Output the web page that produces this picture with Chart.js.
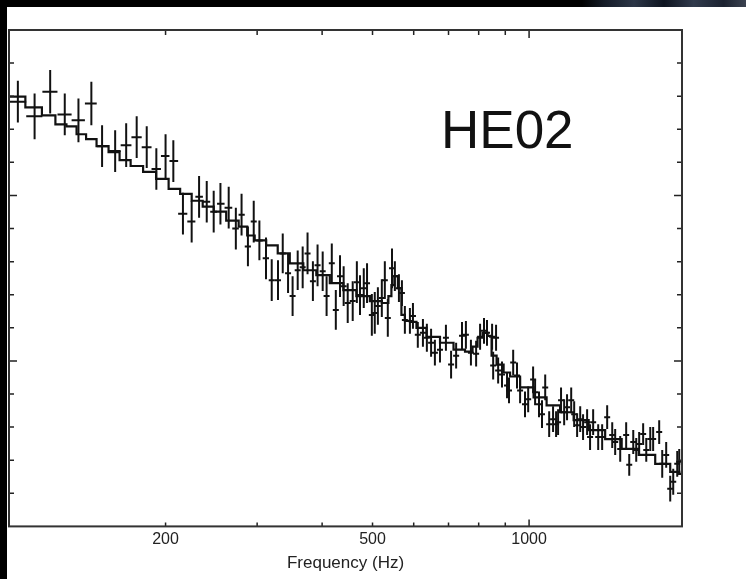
<!DOCTYPE html>
<html>
<head>
<meta charset="utf-8">
<script src="https://cdn.jsdelivr.net/npm/chart.js@4.4.1/dist/chart.umd.min.js"></script>
<style>
  html, body { margin: 0; padding: 0; background: #fff; }
  #wrap { position: relative; width: 746px; height: 579px; overflow: hidden; background: #fff; }
  canvas { position: absolute; left: 0; top: 0; }
  #leftStrip { position: absolute; left: 0; top: 0; width: 7px; height: 579px; background: #000; }
  #topStrip {
    position: absolute; left: 0; top: 0; width: 746px; height: 7px;
    background: linear-gradient(to right, #000 0%, #000 78%, #141b27 81%, #2c3647 85%, #0e1420 89%, #303a4c 93%, #1b2230 97%, #3b4250 100%);
  }
  #label {
    position: absolute; left: 441px; top: 103px;
    font: 53px "Liberation Sans", Arial, sans-serif; line-height: 1; color: #111;
  }
</style>
</head>
<body>
<div id="wrap">
  <canvas id="chart" width="746" height="579"></canvas>
  <div id="leftStrip"></div>
  <div id="topStrip"></div>
  <div id="label">HE02</div>
</div>
<script>
// ================= DATA =================
// measured spectrum (Hz, arbitrary power units) with 1-sigma errors
const freq = [104, 112, 120, 128, 136, 144, 151, 160, 168, 176, 184, 192, 200, 207, 216, 224.5,
  232, 240, 247.5, 255, 264.5, 273, 280, 288, 295.5, 303, 312, 320, 329, 336, 344, 351,
  359, 367, 375, 384, 392, 401, 408, 417.5, 425, 433, 440, 448, 458, 466.5, 473, 481,
  488, 498.5, 505, 512, 521, 528, 535, 545, 552, 562, 569.5, 577, 590, 598, 611, 625,
  636, 648, 659, 674, 692, 708, 724, 743, 756, 773, 791, 805, 819, 830, 849, 853,
  864, 872, 887, 907, 915, 932, 948, 961, 982, 996, 1018, 1027, 1045, 1059, 1074, 1093,
  1112, 1127, 1137, 1152, 1168, 1183, 1205, 1221, 1237, 1254, 1270, 1293, 1310, 1328, 1358, 1382,
  1413, 1445, 1464, 1497, 1537, 1558, 1586, 1607, 1628, 1657, 1680, 1710, 1732, 1779, 1803, 1835,
  1868, 1893, 1927, 1944];

const power = [2.567, 2.478, 2.627, 2.490, 2.454, 2.556, 2.298, 2.268, 2.304, 2.352, 2.292, 2.160, 2.238, 2.208, 1.890, 1.842,
  1.992, 1.962, 1.902, 1.950, 1.926, 1.800, 1.884, 1.692, 1.842, 1.728, 1.620, 1.488, 1.488, 1.650, 1.530, 1.392,
  1.548, 1.566, 1.650, 1.482, 1.578, 1.542, 1.392, 1.590, 1.308, 1.512, 1.452, 1.350, 1.362, 1.476, 1.398, 1.440,
  1.470, 1.278, 1.290, 1.332, 1.380, 1.488, 1.260, 1.560, 1.512, 1.440, 1.410, 1.248, 1.242, 1.272, 1.158, 1.170,
  1.140, 1.110, 1.050, 1.068, 1.140, 0.978, 1.032, 1.152, 1.158, 1.050, 1.044, 1.146, 1.182, 1.170, 1.146, 0.972,
  1.140, 0.942, 0.918, 0.852, 0.822, 0.990, 0.912, 0.822, 0.738, 0.768, 0.888, 0.810, 0.738, 0.678, 0.840, 0.618,
  0.648, 0.618, 0.630, 0.762, 0.690, 0.720, 0.762, 0.678, 0.612, 0.648, 0.600, 0.630, 0.540, 0.630, 0.540, 0.540,
  0.660, 0.552, 0.510, 0.468, 0.552, 0.372, 0.510, 0.462, 0.498, 0.558, 0.462, 0.528, 0.528, 0.570, 0.378, 0.432,
  0.228, 0.270, 0.378, 0.390];

const powerErr = [0.126, 0.138, 0.132, 0.126, 0.132, 0.132, 0.126, 0.126, 0.132, 0.126, 0.126, 0.126, 0.132, 0.126, 0.126, 0.126,
  0.126, 0.126, 0.126, 0.126, 0.126, 0.126, 0.126, 0.120, 0.126, 0.120, 0.126, 0.126, 0.120, 0.120, 0.120, 0.120,
  0.120, 0.126, 0.126, 0.120, 0.126, 0.120, 0.120, 0.120, 0.120, 0.126, 0.120, 0.120, 0.120, 0.126, 0.120, 0.120,
  0.120, 0.126, 0.126, 0.114, 0.114, 0.114, 0.114, 0.120, 0.090, 0.084, 0.078, 0.084, 0.078, 0.078, 0.078, 0.084,
  0.084, 0.084, 0.078, 0.078, 0.078, 0.084, 0.078, 0.084, 0.084, 0.078, 0.078, 0.078, 0.078, 0.078, 0.078, 0.084,
  0.078, 0.078, 0.078, 0.078, 0.078, 0.078, 0.078, 0.078, 0.078, 0.078, 0.078, 0.078, 0.078, 0.084, 0.078, 0.078,
  0.078, 0.078, 0.078, 0.078, 0.078, 0.078, 0.078, 0.078, 0.072, 0.078, 0.078, 0.078, 0.078, 0.078, 0.078, 0.078,
  0.072, 0.078, 0.078, 0.078, 0.078, 0.066, 0.072, 0.072, 0.072, 0.066, 0.072, 0.072, 0.072, 0.072, 0.084, 0.078,
  0.078, 0.078, 0.078, 0.078];

// best-fit model (step histogram)
const modelFreq = [100, 103.3, 111.9, 119.6, 126.1, 131.9, 137.9, 143.5, 151.3, 159.6, 166.8, 176.0, 186.3, 197.4, 208.2, 218.6,
  230.6, 241.0, 254.2, 269.2, 283.9, 290.3, 303.4, 321.4, 336.0, 357.6, 378.8, 401.2, 426.9, 452.2, 479.1, 509.7,
  532.8, 540.0, 547.2, 554.6, 564.5, 572.0, 582.3, 598.0, 616.9, 653.5, 695.4, 736.5, 770.0, 787.2, 804.9, 823.0,
  841.4, 852.7, 879.6, 907.3, 931.6, 991.2, 1049.9, 1112.3, 1183.4, 1253.6, 1351.8, 1451.0, 1564.6, 1687.0, 1811.0, 1926.8,
  1961.4];
const modelPower = [2.597, 2.597, 2.532, 2.484, 2.430, 2.418, 2.370, 2.340, 2.298, 2.262, 2.214, 2.178, 2.142, 2.100, 2.040, 2.010,
  1.968, 1.932, 1.902, 1.848, 1.812, 1.758, 1.728, 1.698, 1.650, 1.590, 1.548, 1.518, 1.470, 1.428, 1.392, 1.362,
  1.350, 1.392, 1.458, 1.512, 1.440, 1.278, 1.242, 1.236, 1.200, 1.146, 1.110, 1.068, 1.056, 1.086, 1.140, 1.170,
  1.152, 1.032, 0.978, 0.930, 0.906, 0.840, 0.780, 0.732, 0.690, 0.642, 0.582, 0.528, 0.468, 0.432, 0.378, 0.330,
  0.318];

// axes
const tickLabels = [200, 500, 1000];
const xMinorTicks = [200, 300, 400, 500, 600, 700, 800, 900];
const xMajorTicks = [1000];
const yMinorTicks = [0.2, 0.4, 0.6, 0.8, 1.2, 1.4, 1.6, 1.8, 2.2, 2.4, 2.6, 2.8];
const yMajorTicks = [1, 2];

const FONT = '"Liberation Sans", Arial, sans-serif';

// ================= ERROR BARS, TICKS, FRAME =================
const framePlugin = {
  id: 'frame',
  afterDatasetsDraw(chart) {
    const { ctx, chartArea: a, scales: { x, y } } = chart;
    ctx.save();

    // error bars
    ctx.beginPath();
    ctx.rect(a.left, a.top, a.right - a.left, a.bottom - a.top);
    ctx.clip();
    ctx.strokeStyle = '#111';
    ctx.lineWidth = 2;
    const px = freq.map(f => x.getPixelForValue(f));
    freq.forEach((f, i) => {
      const cx = px[i];
      const cy = y.getPixelForValue(power[i]);
      const lo = y.getPixelForValue(power[i] - powerErr[i]);
      const hi = y.getPixelForValue(power[i] + powerErr[i]);
      const left = i > 0 ? (cx - px[i - 1]) / 2 : (px[1] - cx) / 2;
      const right = i < px.length - 1 ? (px[i + 1] - cx) / 2 : left;
      ctx.beginPath();
      ctx.moveTo(cx, lo);
      ctx.lineTo(cx, hi);
      ctx.moveTo(cx - Math.max(left, 3), cy);
      ctx.lineTo(cx + Math.max(right, 3), cy);
      ctx.stroke();
    });
    ctx.restore();

    ctx.save();
    ctx.strokeStyle = '#222';
    ctx.lineWidth = 1.5;
    ctx.beginPath();
    // x ticks, inward at top and bottom
    xMinorTicks.forEach(v => {
      const p = x.getPixelForValue(v);
      ctx.moveTo(p, a.top); ctx.lineTo(p, a.top + 5);
      ctx.moveTo(p, a.bottom); ctx.lineTo(p, a.bottom - 4);
    });
    xMajorTicks.forEach(v => {
      const p = x.getPixelForValue(v);
      ctx.moveTo(p, a.top); ctx.lineTo(p, a.top + 8);
      ctx.moveTo(p, a.bottom); ctx.lineTo(p, a.bottom - 7);
    });
    // y ticks, inward at left and right
    yMinorTicks.forEach(v => {
      const p = y.getPixelForValue(v);
      ctx.moveTo(a.left, p); ctx.lineTo(a.left + 5, p);
      ctx.moveTo(a.right, p); ctx.lineTo(a.right - 5, p);
    });
    yMajorTicks.forEach(v => {
      const p = y.getPixelForValue(v);
      ctx.moveTo(a.left, p); ctx.lineTo(a.left + 8, p);
      ctx.moveTo(a.right, p); ctx.lineTo(a.right - 8, p);
    });
    ctx.stroke();

    // frame
    ctx.strokeStyle = '#333';
    ctx.lineWidth = 2;
    ctx.strokeRect(a.left, a.top, a.right - a.left, a.bottom - a.top);
    ctx.restore();
  }
};

// ================= CHART =================
new Chart(document.getElementById('chart'), {
  type: 'scatter',
  data: {
    datasets: [
      {
        type: 'line',
        data: modelFreq.map((f, i) => ({ x: f, y: modelPower[i] })),
        stepped: 'middle',
        borderColor: '#111',
        borderWidth: 2.2,
        pointRadius: 0,
        fill: false
      },
      {
        data: freq.map((f, i) => ({ x: f, y: power[i] })),
        pointRadius: 0,
        showLine: false
      }
    ]
  },
  options: {
    responsive: false,
    animation: false,
    layout: { padding: { left: 9, right: 64, top: 30, bottom: 3 } },
    plugins: { legend: { display: false }, tooltip: { enabled: false } },
    scales: {
      x: {
        type: 'logarithmic',
        min: 100,
        max: 1968,
        grid: { display: false, drawTicks: false },
        border: { display: false },
        afterBuildTicks: s => { s.ticks = tickLabels.map(v => ({ value: v })); },
        ticks: {
          autoSkip: false,
          maxRotation: 0,
          padding: 4,
          color: '#222',
          font: { family: FONT, size: 16 },
          callback: v => String(v)
        },
        title: {
          display: true,
          text: 'Frequency (Hz)',
          color: '#222',
          font: { family: FONT, size: 17 },
          padding: { top: 0, bottom: 2 }
        }
      },
      y: { display: false, min: 0, max: 3 }
    }
  },
  plugins: [framePlugin]
});
</script>
</body>
</html>
